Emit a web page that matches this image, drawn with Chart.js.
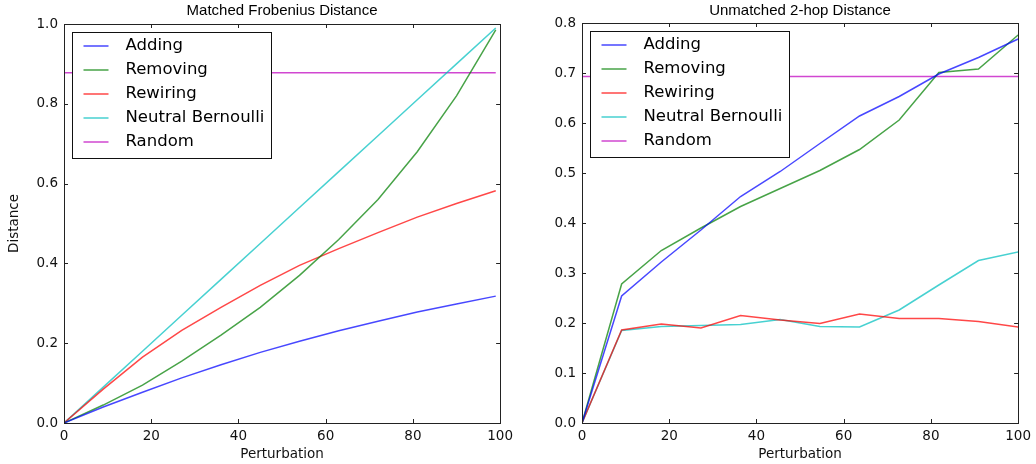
<!DOCTYPE html>
<html>
<head>
<meta charset="utf-8">
<script src="https://cdn.jsdelivr.net/npm/chart.js@4/dist/chart.umd.min.js"></script>
<style>
  html, body { margin: 0; padding: 0; background: #fff; }
  .panel { position: absolute; top: 0; width: 518px; height: 464px; }
</style>
</head>
<body>
<div class="panel" style="left:0"><canvas id="left" width="518" height="464"></canvas></div>
<div class="panel" style="left:518px"><canvas id="right" width="518" height="464"></canvas></div>
<script>
// perturbation steps
const xLeft = [0, 9, 18, 27, 36, 45, 54, 63, 72, 81, 90, 99];
const xRight = [0, 9.09, 18.18, 27.27, 36.36, 45.45, 54.55, 63.64, 72.73, 81.82, 90.91, 100];

// Matched Frobenius Distance
const addingL = [0, 0.040, 0.077, 0.113, 0.146, 0.177, 0.205, 0.231, 0.255, 0.278, 0.298, 0.318];
const removingL = [0, 0.045, 0.095, 0.155, 0.220, 0.290, 0.370, 0.460, 0.560, 0.680, 0.820, 0.985];
const rewiringL = [0, 0.085, 0.165, 0.232, 0.290, 0.345, 0.395, 0.437, 0.477, 0.516, 0.550, 0.582];
const bernoulliL = [0, 0.090, 0.180, 0.270, 0.360, 0.450, 0.540, 0.630, 0.720, 0.810, 0.900, 0.990];
const randomL = 0.878;

// Unmatched 2-hop Distance
const addingR = [0, 0.254, 0.322, 0.386, 0.453, 0.503, 0.559, 0.614, 0.653, 0.698, 0.731, 0.768];
const removingR = [0, 0.278, 0.345, 0.390, 0.433, 0.469, 0.505, 0.547, 0.606, 0.701, 0.708, 0.776];
const rewiringR = [0, 0.186, 0.198, 0.190, 0.215, 0.206, 0.199, 0.218, 0.209, 0.209, 0.203, 0.192];
const bernoulliR = [0, 0.185, 0.193, 0.195, 0.197, 0.207, 0.193, 0.192, 0.226, 0.276, 0.325, 0.342];
const randomR = 0.693;

const labels = ['Adding', 'Removing', 'Rewiring', 'Neutral Bernoulli', 'Random'];
const colors = ['rgba(0,0,255,0.72)', 'rgba(0,128,0,0.72)', 'rgba(255,0,0,0.72)', 'rgba(0,191,191,0.72)', 'rgba(191,0,191,0.72)'];

function pts(xs, ys) {
  return xs.map((x, i) => ({ x: x, y: ys[i] }));
}

// ticks inward on all four sides + frame + title + legend box
const decor = {
  id: 'decor',
  afterDraw(chart) {
    const ctx = chart.ctx;
    const a = chart.chartArea;
    const xs = chart.scales.x, ys = chart.scales.y;
    ctx.save();
    ctx.strokeStyle = '#222';
    ctx.lineWidth = 1;
    ctx.beginPath();
    xs.ticks.forEach(t => {
      const px = Math.round(xs.getPixelForValue(t.value)) + 0.5;
      ctx.moveTo(px, a.bottom); ctx.lineTo(px, a.bottom - 4);
      ctx.moveTo(px, a.top); ctx.lineTo(px, a.top + 4);
    });
    ys.ticks.forEach(t => {
      const py = Math.round(ys.getPixelForValue(t.value)) + 0.5;
      ctx.moveTo(a.left, py); ctx.lineTo(a.left + 4, py);
      ctx.moveTo(a.right, py); ctx.lineTo(a.right - 4, py);
    });
    ctx.stroke();
    ctx.strokeRect(Math.round(a.left) + 0.5, Math.round(a.top) + 0.5, Math.round(a.right - a.left), Math.round(a.bottom - a.top));

    // title
    ctx.fillStyle = '#000';
    ctx.font = '15px "Liberation Sans"';
    ctx.textAlign = 'center';
    ctx.textBaseline = 'middle';
    ctx.fillText(chart.options.plugins.decor.title, (a.left + a.right) / 2, 11);

    // legend
    const bx = a.left + 8.5, by = a.top + 8.5, bw = 199, bh = 126;
    ctx.fillStyle = '#fff';
    ctx.fillRect(bx, by, bw, bh);
    ctx.strokeStyle = '#111';
    ctx.strokeRect(bx, by, bw, bh);
    ctx.font = '16.5px "DejaVu Sans"';
    ctx.textAlign = 'left';
    chart.data.datasets.forEach((ds, i) => {
      const y = by + 13.5 + i * 24;
      ctx.strokeStyle = ds.borderColor;
      ctx.lineWidth = 1.5;
      ctx.beginPath();
      ctx.moveTo(bx + 11, y); ctx.lineTo(bx + 36, y);
      ctx.stroke();
      ctx.fillStyle = '#000';
      ctx.fillText(ds.label, bx + 53, y);
    });
    ctx.restore();
  }
};

function makeChart(id, title, xs, series, randomVal, yMax, yStep, yTitle, top) {
  const datasets = series.map((s, i) => ({
    label: labels[i],
    data: pts(xs, s),
    borderColor: colors[i],
    borderWidth: 1.5,
    pointRadius: 0,
    fill: false,
    tension: 0
  }));
  datasets.push({
    label: labels[4],
    data: [{ x: xs[0], y: randomVal }, { x: xs[xs.length - 1], y: randomVal }],
    borderColor: colors[4],
    borderWidth: 1.5,
    pointRadius: 0,
    fill: false
  });

  return new Chart(document.getElementById(id), {
    type: 'line',
    data: { datasets: datasets },
    plugins: [decor],
    options: {
      responsive: false,
      animation: false,
      layout: { padding: { left: 0, right: 15, top: top, bottom: 0 } },
      plugins: {
        legend: { display: false },
        tooltip: { enabled: false },
        decor: { title: title }
      },
      scales: {
        x: {
          type: 'linear',
          min: 0, max: 100,
          grid: { display: false, drawTicks: false },
          border: { display: false },
          ticks: { stepSize: 20, padding: 5, color: '#111', font: { family: 'DejaVu Sans', size: 13.5 } },
          title: { display: true, text: 'Perturbation', color: '#111', padding: { top: 0, bottom: 1 }, font: { family: 'DejaVu Sans', size: 13.5 } },
          afterFit: s => { s.height = 41; }
        },
        y: {
          min: 0, max: yMax,
          grid: { display: false, drawTicks: false },
          border: { display: false },
          ticks: {
            stepSize: yStep, padding: 6, color: '#111',
            font: { family: 'DejaVu Sans', size: 13.5 },
            callback: v => v.toFixed(1)
          },
          title: { display: !!yTitle, text: yTitle || '', color: '#111', padding: { top: 6, bottom: 0 }, font: { family: 'DejaVu Sans', size: 13.5 } },
          afterFit: s => { s.width = 64; }
        }
      }
    }
  });
}

makeChart('left', 'Matched Frobenius Distance', xLeft, [addingL, removingL, rewiringL, bernoulliL], randomL, 1.0, 0.2, 'Distance', 24);
makeChart('right', 'Unmatched 2-hop Distance', xRight, [addingR, removingR, rewiringR, bernoulliR], randomR, 0.8, 0.1, '', 23);
</script>
</body>
</html>
